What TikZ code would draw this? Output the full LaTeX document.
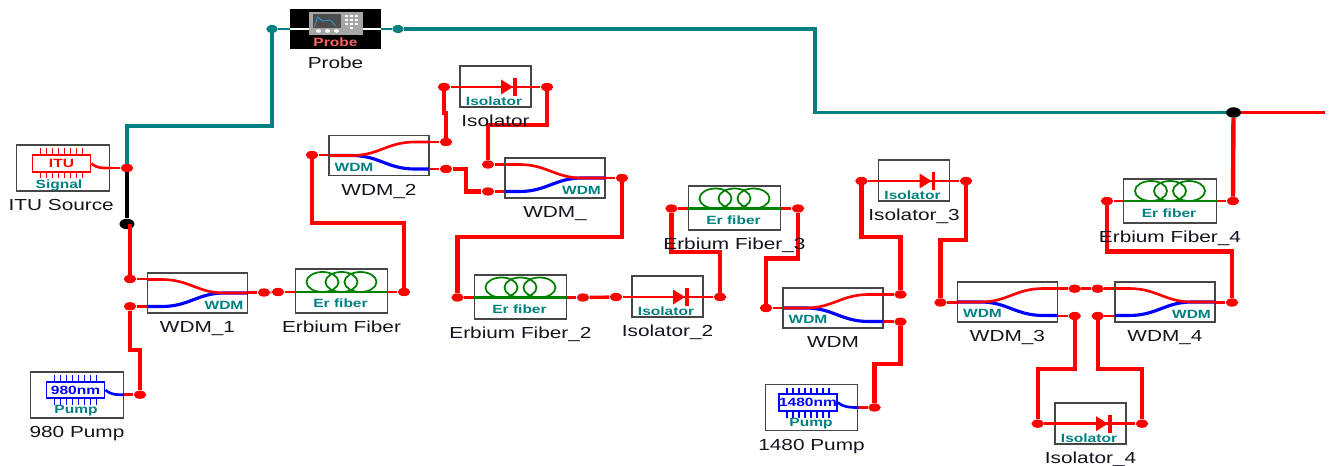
\documentclass[tikz,border=0pt]{standalone}
\usepackage{xcolor}
\usepackage{fontspec}
\usepackage{tikz}
\usetikzlibrary{shapes.geometric, positioning, calc}
\newfontfamily\optifont[FakeStretch=1.3]{Liberation Sans}
\definecolor{myteal}{RGB}{0,128,128}
\definecolor{myred}{RGB}{255,0,0}
\definecolor{myblue}{RGB}{0,0,255}
\definecolor{mygreen}{RGB}{0,128,0}
\definecolor{mygrey}{RGB}{70,70,70}
\definecolor{mydark}{RGB}{20,20,30}
\definecolor{mysalmon}{RGB}{255,100,100}
\tikzset{
  wdmbox/.style={rectangle, draw=mygrey, line width=0.7pt, minimum width=2.0cm, minimum height=0.8cm, inner sep=0pt},
  fiberbox/.style={rectangle, draw=mygrey, line width=0.7pt, minimum width=1.85cm, minimum height=0.88cm, inner sep=0pt},
  isobox/.style={rectangle, draw=mygrey, line width=0.7pt, minimum width=1.42cm, minimum height=0.82cm, inner sep=0pt},
  srcbox/.style={rectangle, draw=mygrey, line width=0.7pt, minimum width=1.85cm, minimum height=0.92cm, inner sep=0pt},
  probebox/.style={rectangle, fill=black, minimum width=1.82cm, minimum height=0.8cm, inner sep=0pt},
  chipbox/.style={rectangle, line width=1.1pt, minimum width=1.16cm, minimum height=0.33cm, inner sep=0pt,
    font=\optifont\fontsize{6.8}{8}\selectfont\bfseries},
  capt/.style={inner sep=0pt, minimum height=0.52cm, text height=6.6pt, text depth=0pt, text=mydark,
    font=\optifont\fontsize{9.1}{10}\selectfont},
  icontag/.style={inner sep=0pt, text=myteal, font=\optifont\fontsize{6.8}{8}\selectfont\bfseries},
  port/.style={ellipse, fill=myred, minimum width=0.25cm, minimum height=0.165cm, inner sep=0pt},
  tealport/.style={ellipse, fill=myteal, minimum width=0.23cm, minimum height=0.16cm, inner sep=0pt},
  tapport/.style={ellipse, fill=black, minimum width=0.3cm, minimum height=0.21cm, inner sep=0pt},
  wire/.style={draw=myred, line width=2.5pt},
  tealwire/.style={draw=myteal, line width=2.2pt},
  stub/.style={draw=myred, line width=1.5pt},
  pics/wdmsplit/.style={code={
    \draw[myblue, line width=1.8pt] (-50,0) -- (-27,0) .. controls (0,0) and (8,13.5) .. (36,13.5) -- (50,13.5);
    \draw[myred, line width=1.5pt] (-50,0) -- (-27,0) .. controls (0,0) and (8,-13.5) .. (36,-13.5) -- (50,-13.5);
  }},
  pics/coils/.style={code={
    \draw[mygreen, line width=1pt] (-19,-10) ellipse [x radius=16, y radius=10];
    \draw[mygreen, line width=1pt] (0,-10) ellipse [x radius=16, y radius=10];
    \draw[mygreen, line width=1pt] (19,-10) ellipse [x radius=16, y radius=10];
  }},
  pics/diode/.style={code={
    \fill[myred] (5.5,-7.5) -- (17.5,0) -- (5.5,7.5) -- cycle;
    \draw[myred, line width=1.8pt] (19.5,-9) -- (19.5,9);
  }},
  pics/chipticks/.style={code={
    \foreach \tick in {-21,-15,...,21} {
      \draw[#1, line width=1pt] (\tick,-8) -- (\tick,-15);
      \draw[#1, line width=1pt] (\tick,8) -- (\tick,15);
    }
  }},
  pics/scopeicon/.style={code={
    \fill[gray!70] (-27,-17) rectangle (27,6);
    \fill[black!70] (-23,-15) rectangle (5,-1);
    \draw[cyan!80!black, line width=0.5pt] (-21,-2) -- (-18,-12) -- (-13,-8) -- (-5,-9) -- (0,-3);
    \foreach \kx in {9,14,19} { \foreach \ky in {-14,-10,-6} { \fill[white] (\kx,\ky) rectangle +(3,2); } }
    \fill[white] (14,-2) rectangle +(3,2);
    \foreach \kx in {-17,-8,1} { \fill[white] (\kx,2) ellipse [x radius=2.5, y radius=1.8]; }
  }}
}
\begin{document}
\begin{tikzpicture}[x=0.02cm, y=-0.02cm]
  \useasboundingbox (0,0) rectangle (1330,466);
  % components
  \node[probebox] (probe) at (335.5,29) {};
  \node[srcbox] (itu) at (63,168) {};
  \node[srcbox] (pumpA) at (77,395) {};
  \node[srcbox] (pumpB) at (811.5,407.5) {};
  \node[wdmbox] (wdmA) at (197.5,293) {};
  \node[wdmbox] (wdmB) at (379,155.5) {};
  \node[wdmbox] (wdmC) at (555,178) {};
  \node[wdmbox] (wdmD) at (833,308) {};
  \node[wdmbox] (wdmE) at (1007.5,302) {};
  \node[wdmbox] (wdmF) at (1165,302) {};
  \node[fiberbox] (erA) at (341.5,291) {};
  \node[fiberbox] (erB) at (520.5,297) {};
  \node[fiberbox] (erC) at (734.5,208) {};
  \node[fiberbox] (erD) at (1170,201) {};
  \node[isobox] (isoA) at (495.5,86.5) {};
  \node[isobox] (isoB) at (667.5,296.5) {};
  \node[isobox] (isoC) at (914,180.5) {};
  \node[isobox] (isoD) at (1090.5,423.5) {};
  % ports
  \node[tealport] (probeIn) at (272,29) {};
  \node[tealport] (probeOut) at (398,29) {};
  \node[port] (ituOut) at (127,168) {};
  \node[tapport] (tapA) at (127,224) {};
  \node[tapport] (tapB) at (1233.5,112.5) {};
  \coordinate (endB) at (1325,112.5);
  \node[port] (pumpAout) at (140,394.7) {};
  \node[port] (pumpBout) at (874.5,407.5) {};
  \node[port] (wdmAup) at (130,279) {};
  \node[port] (wdmAlow) at (130,306.3) {};
  \node[port] (wdmAout) at (264,292.5) {};
  \node[port] (erAin) at (278,292) {};
  \node[port] (erAout) at (404,292) {};
  \node[port] (wdmBin) at (312,155) {};
  \node[port] (wdmBup) at (446,142) {};
  \node[port] (wdmBlow) at (446,169) {};
  \node[port] (isoAin) at (444,87) {};
  \node[port] (isoAout) at (547,87) {};
  \node[port] (wdmCup) at (488,164.5) {};
  \node[port] (wdmClow) at (488,191.5) {};
  \node[port] (wdmCout) at (622,178) {};
  \node[port] (erBin) at (457.5,297.5) {};
  \node[port] (erBout) at (583,297.5) {};
  \node[port] (isoBin) at (616,297) {};
  \node[port] (isoBout) at (720,297) {};
  \node[port] (erCin) at (671.5,208.5) {};
  \node[port] (erCout) at (798,208.5) {};
  \node[port] (wdmDin) at (766,308) {};
  \node[port] (wdmDup) at (900.5,294.5) {};
  \node[port] (wdmDlow) at (900.5,321.7) {};
  \node[port] (isoCin) at (861.5,181) {};
  \node[port] (isoCout) at (966,181) {};
  \node[port] (wdmEin) at (940.5,302.5) {};
  \node[port] (wdmEup) at (1074.7,288.7) {};
  \node[port] (wdmElow) at (1074.7,316) {};
  \node[port] (wdmFup) at (1097.7,288.7) {};
  \node[port] (wdmFlow) at (1097.7,316) {};
  \node[port] (wdmFout) at (1232,302.5) {};
  \node[port] (erDin) at (1107,201) {};
  \node[port] (erDout) at (1233,201) {};
  \node[port] (isoDin) at (1037.7,423.7) {};
  \node[port] (isoDout) at (1142,423.7) {};
  % connectors
  \draw[tealwire] (probeIn) -- ++(0,97) -| (ituOut);
  \draw[tealwire] (probeOut) -- ++(417,0) |- (tapB);
  \draw[draw=black, line width=2.5pt] (ituOut) -- (tapA);
  \draw[stub, line width=1.9pt] (tapB) -- (endB);
  \draw[wire] (wdmAup |- tapA) -- (wdmAup);
  \draw[wire] (pumpAout) -- ++(0,-45) -| (wdmAlow);
  \draw[wire] (wdmBin) -- ++(0,68) -| (erAout);
  \draw[wire] (wdmBup) -- ++(0,-29) -| (isoAin);
  \draw[wire] (isoAout) -- ++(0,38) -| (wdmCup);
  \draw[wire] (wdmBlow) -- ++(20,0) |- (wdmClow);
  \draw[wire] (wdmCout) -- ++(0,59) -| (erBin);
  \draw[wire] (isoBout) -- ++(0,-45) -| (erCin);
  \draw[wire] (erCout) -- ++(0,50) -| (wdmDin);
  \draw[wire] (wdmDup) -- ++(0,-57.5) -| (isoCin);
  \draw[wire] (isoCout) -- ++(0,59) -| (wdmEin);
  \draw[wire] (wdmDlow) -- ++(0,42) -| (pumpBout);
  \draw[wire] (wdmElow) -- ++(0,53) -| (isoDin);
  \draw[wire] (wdmFlow) -- ++(0,53) -| (isoDout);
  \draw[wire] (wdmFout) -- ++(0,-51) -| (erDin);
  \draw[wire] (erDout) -- (tapB);
  \draw[stub, line width=1.9pt] (wdmAout) -- (erAin);
  \draw[stub, line width=1.9pt] (erBout) -- (isoBin);
  \draw[stub, line width=1.9pt] (wdmEup) -- (wdmFup);
  % short leads into the boxes
  \foreach \pname/\bname/\bside in {wdmAup/wdmA/west, wdmAlow/wdmA/west, wdmAout/wdmA/east,
      wdmBin/wdmB/west, wdmBup/wdmB/east, wdmBlow/wdmB/east,
      wdmCup/wdmC/west, wdmClow/wdmC/west, wdmCout/wdmC/east,
      wdmDin/wdmD/west, wdmDup/wdmD/east, wdmDlow/wdmD/east,
      wdmEin/wdmE/west, wdmEup/wdmE/east, wdmElow/wdmE/east,
      wdmFup/wdmF/west, wdmFlow/wdmF/west, wdmFout/wdmF/east,
      isoAin/isoA/east, isoBin/isoB/east, isoCin/isoC/east, isoDin/isoD/east,
      isoAout/isoA/west, isoBout/isoB/west, isoCout/isoC/west, isoDout/isoD/west,
      erAin/erA/west, erAout/erA/east, erBin/erB/west, erBout/erB/east,
      erCin/erC/west, erCout/erC/east, erDin/erD/west, erDout/erD/east,
      ituOut/itu/east, pumpAout/pumpA/east, pumpBout/pumpB/east}
    \draw[stub] (\pname) -- (\pname -| \bname.\bside);
  % wdm couplers
  \pic[xscale=-1] at (wdmA) {wdmsplit};
  \pic at (wdmB) {wdmsplit};
  \pic[xscale=-1] at (wdmC) {wdmsplit};
  \pic at (wdmD) {wdmsplit};
  \pic at (wdmE) {wdmsplit};
  \pic[xscale=-1] at (wdmF) {wdmsplit};
  \node[icontag] (wdmAtag) at ($(wdmA)+(26.5,12)$) {WDM};
  \node[icontag] (wdmBtag) at ($(wdmB)+(-25,11.5)$) {WDM};
  \node[icontag] (wdmCtag) at ($(wdmC)+(26.5,12)$) {WDM};
  \node[icontag] (wdmDtag) at ($(wdmD)+(-25,11.5)$) {WDM};
  \node[icontag] (wdmEtag) at ($(wdmE)+(-25,11.5)$) {WDM};
  \node[icontag] (wdmFtag) at ($(wdmF)+(26.5,12)$) {WDM};
  % erbium fibers
  \foreach \bname/\pname in {erA/erAin, erB/erBin, erC/erCin, erD/erDin} {
    \pic at (\bname.center |- \pname) {coils};
    \draw[mygreen, line width=1.2pt] (\bname.west |- \pname) -- (\bname.east |- \pname);
  }
  \node[icontag] (erAtag) at ($(erA)+(-1,12)$) {Er fiber};
  \node[icontag] (erBtag) at ($(erB)+(-1,12)$) {Er fiber};
  \node[icontag] (erCtag) at ($(erC)+(-1,12)$) {Er fiber};
  \node[icontag] (erDtag) at ($(erD)+(-1,12)$) {Er fiber};
  % isolators
  \foreach \bname/\pname/\qname in {isoA/isoAin/isoAout, isoB/isoBin/isoBout, isoC/isoCin/isoCout, isoD/isoDin/isoDout} {
    \draw[stub] (\bname.west |- \pname) -- (\bname.east |- \qname);
    \pic at (\bname.center |- \pname) {diode};
  }
  \node[icontag] (isoAtag) at ($(isoA)+(-1.5,14.5)$) {Isolator};
  \node[icontag] (isoBtag) at ($(isoB)+(-1.5,14.5)$) {Isolator};
  \node[icontag] (isoCtag) at ($(isoC)+(-1.5,14.5)$) {Isolator};
  \node[icontag] (isoDtag) at ($(isoD)+(-1.5,14.5)$) {Isolator};
  % sources
  \node[chipbox, draw=myred, text=myred] (ituChip) at (61.5,163.5) {ITU};
  \node[chipbox, draw=myblue, text=myblue] (pumpAchip) at (75.5,390) {980nm};
  \node[chipbox, draw=myblue, text=myblue] (pumpBchip) at (808,402.5) {1480nm};
  \pic at (ituChip) {chipticks=myred};
  \pic at (pumpAchip) {chipticks=myblue};
  \pic at (pumpBchip) {chipticks=myblue};
  \draw[myred, line width=1.5pt] (ituChip.east) .. controls +(6,5) and +(-8,0) .. (itu.east |- ituOut);
  \draw[myblue, line width=1.5pt] (pumpAchip.east) .. controls +(6,5) and +(-8,0) .. (pumpA.east |- pumpAout);
  \draw[myblue, line width=1.5pt] (pumpBchip.east) .. controls +(6,5) and +(-8,0) .. (pumpB.east |- pumpBout);
  \node[icontag] (ituTag) at (59,185) {Signal};
  \node[icontag] (pumpAtag) at (76,411) {Pump};
  \node[icontag] (pumpBtag) at (811,424) {Pump};
  % probe
  \draw[myteal, line width=1.6pt] (probeIn) -- (probe.west);
  \draw[myteal, line width=1.6pt] (probeOut) -- (probe.east);
  \draw[white, line width=1pt] (probe.west) -- (probe.east);
  \pic at (probe) {scopeicon};
  \node[icontag, text=mysalmon] (probeTag) at ($(probe)+(0,13)$) {Probe};
  % captions
  \node[capt, below=0pt of probe] (probeCapt) {Probe};
  \node[capt, below=0pt of itu, xshift=-1pt] (ituCapt) {ITU Source};
  \node[capt, below=0pt of pumpA] (pumpAcapt) {980 Pump};
  \node[capt, below=0pt of pumpB] (pumpBcapt) {1480 Pump};
  \node[capt, below=0pt of wdmA] (wdmAcapt) {WDM\_1};
  \node[capt, below=0pt of wdmB] (wdmBcapt) {WDM\_2};
  \node[capt, below=0pt of wdmC] (wdmCcapt) {WDM\_};
  \node[capt, below=0pt of wdmD] (wdmDcapt) {WDM};
  \node[capt, below=0pt of wdmE] (wdmEcapt) {WDM\_3};
  \node[capt, below=0pt of wdmF] (wdmFcapt) {WDM\_4};
  \node[capt, below=0pt of erA] (erAcapt) {Erbium Fiber};
  \node[capt, below=0pt of erB] (erBcapt) {Erbium Fiber\_2};
  \node[capt, below=0pt of erC] (erCcapt) {Erbium Fiber\_3};
  \node[capt, below=0pt of erD] (erDcapt) {Erbium Fiber\_4};
  \node[capt, below=0pt of isoA] (isoAcapt) {Isolator};
  \node[capt, below=0pt of isoB] (isoBcapt) {Isolator\_2};
  \node[capt, below=0pt of isoC] (isoCcapt) {Isolator\_3};
  \node[capt, below=0pt of isoD] (isoDcapt) {Isolator\_4};
\end{tikzpicture}
\end{document}
